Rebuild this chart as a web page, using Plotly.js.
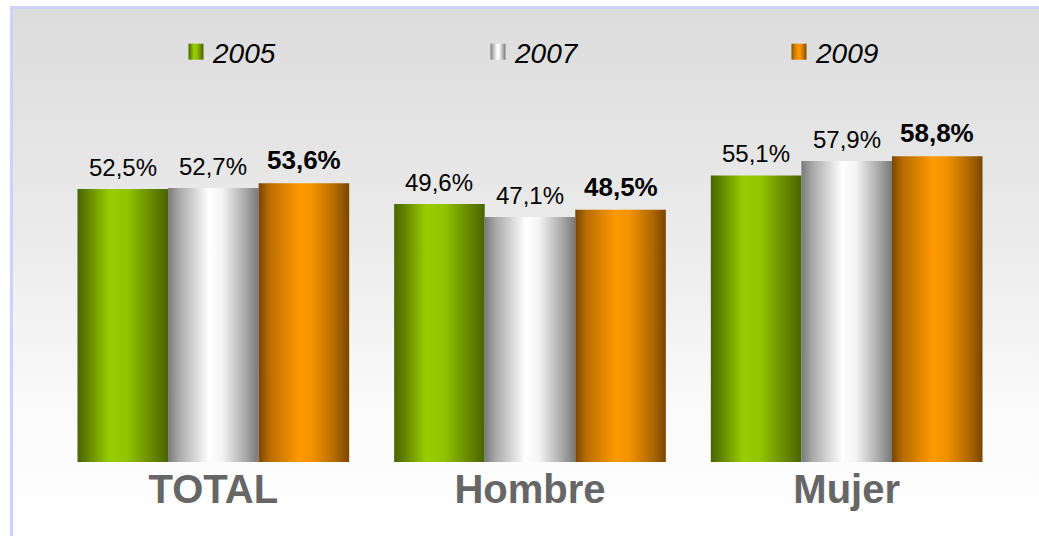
<!DOCTYPE html>
<html>
<head>
<meta charset="utf-8">
<script src="https://cdn.plot.ly/plotly-3.0.1.min.js"></script>
<style>
  html, body { margin: 0; padding: 0; background: #ffffff; width: 1039px; height: 536px; overflow: hidden; }
  #bg { position: absolute; left: 10px; top: 6px; width: 1029px; height: 530px;
        box-sizing: border-box; border-top: 3px solid #d0d0ff; border-left: 3px solid #d0d0ff;
        background: linear-gradient(to bottom, #dcdcdc 0%, #ececec 45%, #fafafa 75%, #ffffff 100%); }
  #chart { position: absolute; left: 0; top: 0; width: 1039px; height: 536px; }
</style>
</head>
<body>
<div id="bg"></div>
<div id="chart"></div>
<script>
// ---- data ----
var categories = ["TOTAL", "Hombre", "Mujer"];
var seriesNames = ["2005", "2007", "2009"];
var values2005 = [52.5, 49.6, 55.1];
var values2007 = [52.7, 47.1, 57.9];
var values2009 = [53.6, 48.5, 58.8];

var allValues = [values2005, values2007, values2009];
var baseColors = ["#99cc00", "#e6e6e6", "#ff9900"];
var gradStops = [
  [[0, "#4a6600"], [0.08, "#5a7a00"], [0.35, "#99cc00"], [0.55, "#92c400"], [0.8, "#6a8c00"], [1, "#4a6400"]],
  [[0, "#7a7a7a"], [0.12, "#a8a8a8"], [0.45, "#ffffff"], [0.6, "#f4f4f4"], [0.85, "#aaaaaa"], [1, "#787878"]],
  [[0, "#7a4600"], [0.12, "#b86c00"], [0.45, "#ff9900"], [0.6, "#f29200"], [0.85, "#b06800"], [1, "#7a4600"]]
];

function fmt(v) { return v.toFixed(1).replace(".", ",") + "%"; }

var legendIds = ["legend", "legend2", "legend3"];
var legendPx = [173, 475, 776];

var traces = allValues.map(function (vals, j) {
  return {
    type: "bar",
    name: seriesNames[j],
    x: categories,
    y: vals,
    legend: legendIds[j],
    marker: { color: baseColors[j], line: { width: 0 } },
    hoverinfo: "none"
  };
});

var bargap = 0.142;
var barW = (1 - bargap) / 3;
var annotations = [];
allValues.forEach(function (vals, j) {
  vals.forEach(function (v, i) {
    var bold = (j === 2);
    annotations.push({
      x: i + (j - 1) * barW,
      y: v,
      xref: "x", yref: "y",
      text: fmt(v),
      showarrow: false,
      yanchor: "bottom",
      yshift: 6,
      font: { family: "Liberation Sans, Arial, sans-serif", size: bold ? 26 : 24,
              color: "#000000", weight: bold ? "bold" : "normal" }
    });
  });
});

var layout = {
  width: 1039, height: 536,
  paper_bgcolor: "rgba(0,0,0,0)",
  plot_bgcolor: "rgba(0,0,0,0)",
  margin: { l: 55, r: 34, t: 98, b: 74, autoexpand: false },
  barmode: "group",
  bargap: bargap,
  bargroupgap: 0,
  showlegend: true,
  xaxis: {
    type: "category",
    range: [-0.5, 2.5],
    showgrid: false, zeroline: false, showline: false, ticks: "",
    tickfont: { family: "Liberation Sans, Arial, sans-serif", size: 40, color: "#666666", weight: "bold" }
  },
  yaxis: {
    range: [0, 70],
    showgrid: false, zeroline: false, showline: false, showticklabels: false, ticks: ""
  },
  annotations: annotations,
  font: { family: "Liberation Sans, Arial, sans-serif" }
};

legendIds.forEach(function (id, j) {
  layout[id] = {
    orientation: "h",
    xref: "container", yref: "container",
    x: legendPx[j] / 1039, xanchor: "left",
    y: 1 - 52 / 536, yanchor: "middle",
    font: { family: "Liberation Sans, Arial, sans-serif", size: 28, style: "italic", color: "#000000" },
    bgcolor: "rgba(0,0,0,0)", borderwidth: 0
  };
});

var gd = document.getElementById("chart");

function applyGradients() {
  var svg = gd.querySelector("svg.main-svg");
  if (!svg) return;
  var ns = "http://www.w3.org/2000/svg";
  var defs = svg.querySelector("defs");
  if (!defs) { defs = document.createElementNS(ns, "defs"); svg.insertBefore(defs, svg.firstChild); }
  gradStops.forEach(function (stops, j) {
    var id = "cylgrad" + j;
    if (svg.querySelector("#" + id)) return;
    var lg = document.createElementNS(ns, "linearGradient");
    lg.setAttribute("id", id);
    lg.setAttribute("x1", "0"); lg.setAttribute("x2", "1");
    lg.setAttribute("y1", "0"); lg.setAttribute("y2", "0");
    stops.forEach(function (s) {
      var st = document.createElementNS(ns, "stop");
      st.setAttribute("offset", s[0]);
      st.setAttribute("stop-color", s[1]);
      lg.appendChild(st);
    });
    defs.appendChild(lg);
  });
  var barTraces = gd.querySelectorAll(".barlayer .trace.bars");
  barTraces.forEach(function (t, j) {
    t.querySelectorAll("path").forEach(function (p) { p.style.fill = "url(#cylgrad" + j + ")"; });
  });
  legendIds.forEach(function (id, j) {
    gd.querySelectorAll("." + id + " .traces .legendpoints path, g." + id + " .legendpoints path").forEach(function (p) {
      p.style.fill = "url(#cylgrad" + j + ")";
      p.setAttribute("d", "M10.5,8H-4.5V-8H10.5Z");
    });
  });
}

Plotly.newPlot(gd, traces, layout, { displayModeBar: false, staticPlot: true }).then(function () {
  applyGradients();
  gd.on("plotly_afterplot", applyGradients);
});
</script>
</body>
</html>
